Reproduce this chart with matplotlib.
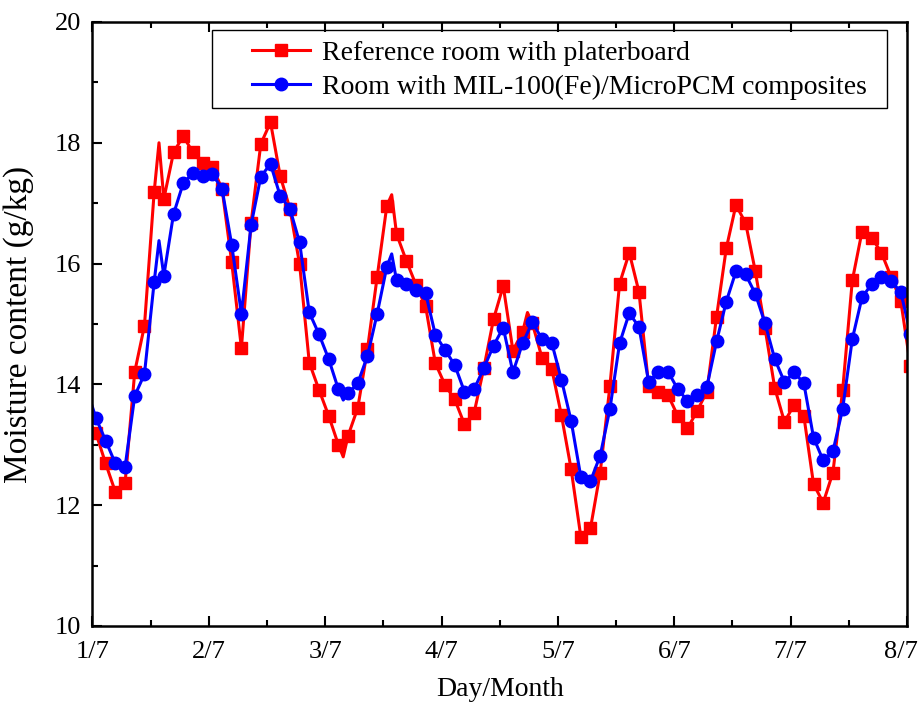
import numpy as np
import matplotlib.pyplot as plt
import matplotlib.transforms as mtransforms
from matplotlib.patches import Rectangle
from matplotlib.ticker import MultipleLocator

plt.rcParams['font.family'] = ['Liberation Serif', 'DejaVu Serif']

# sampling times (hours from 1/7 00:00), 2-hourly
hours = np.arange(-1.28, 169, 2)

red = [13.45, 13.19, 12.69, 12.22, 12.36, 14.21, 14.97, 17.18, 17.07, 17.84,
       18.11, 17.84, 17.66, 17.60, 17.24, 16.02, 14.60, 16.68, 17.98, 18.34,
       17.45, 16.91, 15.99, 14.36, 13.91, 13.48, 13.00, 13.15, 13.61, 14.58,
       15.78, 16.96, 16.49, 16.05, 15.65, 15.29, 14.35, 13.99, 13.75, 13.34,
       13.53, 14.27, 15.08, 15.63, 14.56, 14.87, 15.01, 14.44, 14.26, 13.49,
       12.60, 11.48, 11.62, 12.54, 13.97, 15.67, 16.18, 15.53, 13.97, 13.88,
       13.82, 13.48, 13.27, 13.56, 13.88, 15.12, 16.25, 16.97, 16.67, 15.87,
       14.93, 13.94, 13.38, 13.66, 13.48, 12.35, 12.04, 12.54, 13.90, 15.72,
       16.53, 16.43, 16.18, 15.78, 15.38, 14.30]

blue = [13.95, 13.44, 13.07, 12.69, 12.63, 13.81, 14.17, 15.69, 15.80, 16.82,
        17.33, 17.50, 17.45, 17.48, 17.24, 16.31, 15.17, 16.64, 17.44, 17.65,
        17.12, 16.91, 16.35, 15.19, 14.83, 14.42, 13.92, 13.85, 14.02, 14.47,
        15.17, 15.95, 15.72, 15.66, 15.57, 15.51, 14.82, 14.57, 14.32, 13.88,
        13.92, 14.27, 14.64, 14.94, 14.20, 14.68, 15.03, 14.75, 14.69, 14.08,
        13.40, 12.47, 12.40, 12.82, 13.59, 14.68, 15.18, 14.95, 14.04, 14.21,
        14.21, 13.92, 13.73, 13.82, 13.96, 14.71, 15.37, 15.87, 15.82, 15.50,
        15.01, 14.42, 14.04, 14.20, 14.02, 13.12, 12.74, 12.89, 13.59, 14.75,
        15.44, 15.66, 15.78, 15.71, 15.53, 14.83]

# odd-hour readings shown only in the line (no symbol)
red_extra_h = [13.72, 51.72, 61.72, 89.72]
red_extra = [18.00, 12.80, 17.14, 15.19]
blue_extra_h = [13.72, 51.72, 61.72]
blue_extra = [16.38, 13.74, 16.16]

day_labels = ['1/7', '2/7', '3/7', '4/7', '5/7', '6/7', '7/7', '8/7']
legend_labels = ['Reference room with platerboard',
                 'Room with MIL-100(Fe)/MicroPCM composites']


def merge(h, v, eh, ev):
    x = np.concatenate([h, eh])
    y = np.concatenate([v, ev])
    mask = np.concatenate([np.ones(len(h), bool), np.zeros(len(eh), bool)])
    order = np.argsort(x)
    return x[order], y[order], list(mask[order])


fig = plt.figure(figsize=(9.21, 7.02), dpi=100)
ax = fig.add_axes([0.1004, 0.1083, 0.8844, 0.8604])

x, y, m = merge(hours, red, red_extra_h, red_extra)
ax.plot(x, y, color='#ff0000', lw=2.2, marker='s', ms=8, markevery=m,
        label=legend_labels[0])
x, y, m = merge(hours, blue, blue_extra_h, blue_extra)
ax.plot(x, y, color='#0000ff', lw=2.2, marker='o', ms=9, markevery=m,
        label=legend_labels[1])

ax.set_xlim(0, 168)
ax.set_ylim(10, 20)
ax.set_xticks(np.arange(0, 169, 24))
ax.set_xticklabels(day_labels)
ax.xaxis.set_minor_locator(MultipleLocator(12))
ax.set_yticks([10, 12, 14, 16, 18, 20])
ax.yaxis.set_minor_locator(MultipleLocator(1))

ax.tick_params(which='both', direction='in', top=True, right=False,
               labelsize=19, width=1.5)
ax.tick_params(which='major', length=7)
ax.tick_params(which='minor', length=4)
ax.tick_params(axis='x', pad=11)
ax.tick_params(axis='y', pad=8)
for s in ax.spines.values():
    s.set_linewidth(1.8)

# last day label sits a bit left so it stays inside the figure
lab = ax.get_xticklabels()[-1]
lab.set_transform(lab.get_transform() +
                  mtransforms.ScaledTranslation(-6 / 100, 0, fig.dpi_scale_trans))

ax.set_xlabel('Day/Month', fontsize=20)
ax.xaxis.set_label_coords(0.5, -0.084)
ax.set_ylabel('Moisture content (g/kg)', fontsize=24)
ax.yaxis.set_label_coords(-0.072, 0.5)

ax.add_patch(Rectangle((0.1467, 0.8576), 0.8287, 0.1292, transform=ax.transAxes,
                       fill=False, edgecolor='black', lw=1.0, zorder=5))
ax.legend(loc='upper left', bbox_to_anchor=(0.1958, 0.9700), borderaxespad=0,
          fontsize=20, frameon=False, handlelength=2.1, labelspacing=0.33,
          borderpad=0, handletextpad=0.43)

fig.savefig('out.png', dpi=100)
